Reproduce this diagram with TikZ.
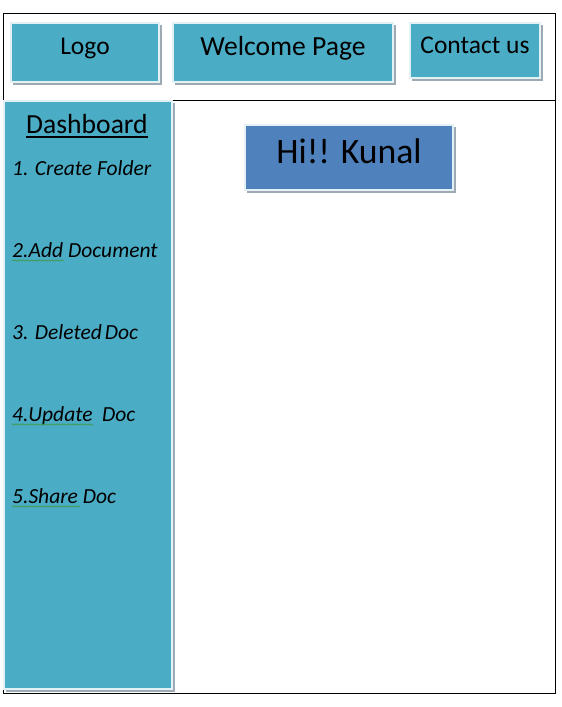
\documentclass[tikz,border=0pt]{standalone}
\usepackage{fontspec}
\setmainfont{Carlito}
\usetikzlibrary{decorations.pathmorphing,calc}
\definecolor{teal}{HTML}{4BACC6}
\definecolor{blu}{HTML}{4F81BD}
\definecolor{shd}{HTML}{9EAAB3}
\definecolor{edge}{HTML}{E4F1F4}
\definecolor{spell}{HTML}{3C9A3C}
\tikzset{
  panel/.style={fill=teal, draw=edge, line width=1.4pt},
  shadowbox/.style={fill=shd, draw=none},
  toptext/.style={font=\fontsize{25.5}{30}\selectfont, inner sep=0pt, anchor=base},
  itemtext/.style={font=\fontsize{21.5}{26}\selectfont\itshape, inner sep=0pt, anchor=base west},
  squiggle/.style={draw=spell, line width=0.5pt, decorate, decoration={snake, amplitude=0.7pt, segment length=2.6pt}},
}
\begin{document}
\begin{tikzpicture}[x=1pt,y=-1pt]
\useasboundingbox[fill=white] (0,0) rectangle (562,707);
% outer frame
\draw[line width=1pt] (3,13) rectangle (555,693);
\draw[line width=1pt] (3,100) -- (555,100);
% header boxes
\fill[shadowbox] (13,25) rectangle (162,85);
\draw[panel] (11,23) rectangle (159,82);
\node[toptext] (logo) at (85,54) {Logo};
\fill[shadowbox] (175,25) rectangle (396,85);
\draw[panel] (173,23) rectangle (393,82);
\node[toptext, font=\fontsize{27.6}{32}\selectfont] (welcome) at (283,55) {Welcome Page};
\fill[shadowbox] (412,25) rectangle (543,81);
\draw[panel] (410,23) rectangle (540,78);
\node[toptext] (contact) at (475,53) {Contact us};
% sidebar
\fill[shadowbox] (6,103) rectangle (175,692);
\draw[panel] (4,101) rectangle (172,689);
\node[inner sep=0pt, anchor=base, font=\fontsize{27.6}{32}\selectfont] (dash) at (87,133) {Dashboard};
\draw[line width=1.5pt] ($(dash.base west)+(0,4)$) -- ($(dash.base east)+(0,4)$);
\node[itemtext] (i1) at (12,175) {1. Create Folder};
\node[itemtext] (i2) at (12,257) {2.Add Document};
\node[itemtext] (i3) at (12,339) {3. Deleted\hspace{3pt}Doc};
\node[itemtext] (i4) at (12,421) {4.Update\ \ Doc};
\node[itemtext] (i5) at (12,503) {5.Share Doc};
\draw[squiggle] (12,260.5) -- (64,260.5);
\draw[squiggle] (12,424.5) -- (93,424.5);
\draw[squiggle] (12,506.5) -- (80,506.5);
% greeting
\fill[shadowbox] (247,127) rectangle (456,193);
\draw[fill=blu, draw=edge, line width=1.4pt] (245,125) rectangle (453,190);
\node[inner sep=0pt, anchor=base, font=\fontsize{35.7}{40}\selectfont] (hi) at (349,163) {Hi!! Kunal};
\end{tikzpicture}
\end{document}
